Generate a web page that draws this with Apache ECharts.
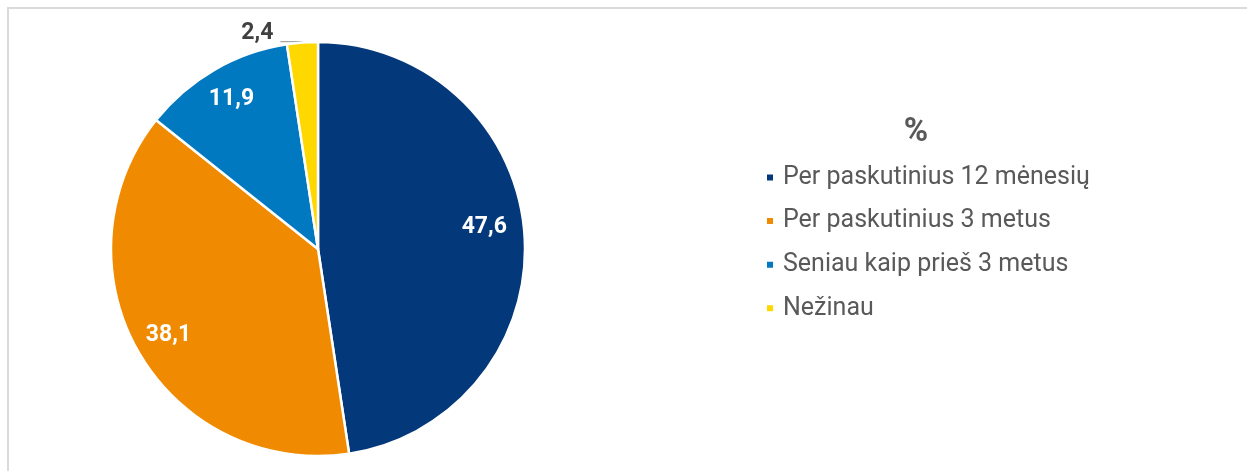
<!DOCTYPE html>
<html>
<head>
<meta charset="utf-8">
<script src="https://cdn.jsdelivr.net/npm/echarts@6/dist/echarts.min.js"></script>
<style>
  html, body { margin: 0; padding: 0; background: #fff; }
  #frame {
    position: absolute; left: 7px; top: 7px; width: 1260px; height: 480px;
    border-top: 2px solid #dadada; border-left: 2px solid #dadada;
  }
  #chart { position: absolute; left: 0; top: 0; width: 1247px; height: 471px; }
</style>
</head>
<body>
<div id="frame"></div>
<div id="chart"></div>
<script>
const categories = [
  'Per paskutinius 12 mėnesių',
  'Per paskutinius 3 metus',
  'Seniau kaip prieš 3 metus',
  'Nežinau',
]
const values = [47.6, 38.1, 11.9, 2.4]
const colors = ['#03387a', '#f08a00', '#0079c1', '#ffd800']
const legendTitle = '%'

const fmt = (v) => String(v).replace('.', ',')
const font = 'Roboto'
const center = [318, 249]
const R = 207

const chart = echarts.init(document.getElementById('chart'))

chart.setOption({
  animation: false,
  color: colors,
  title: {
    text: legendTitle,
    left: 916,
    top: 116,
    textAlign: 'center',
    padding: 0,
    textStyle: { fontFamily: font, fontSize: 33, fontWeight: 'bold', color: '#595959' },
  },
  legend: {
    orient: 'vertical',
    left: 760,
    top: 160,
    itemWidth: 8,
    itemHeight: 8,
    itemGap: 18.6,
    icon: 'rect',
    data: categories,
    textStyle: { fontFamily: font, fontSize: 25, color: '#595959', padding: [0, 0, 0, 4] },
  },
  series: [
    {
      type: 'pie',
      center: center,
      radius: [0, R],
      startAngle: 90,
      clockwise: true,
      legendHoverLink: false,
      itemStyle: { borderColor: '#fff', borderWidth: 2.5 },
      emphasis: { disabled: true },
      label: { show: false },
      labelLine: { show: false },
      data: categories.map((name, i) => {
        const item = { name, value: values[i] }
        if (i === 3) {
          item.label = {
            show: true,
            position: 'outside',
            formatter: (p) => fmt(p.value),
            fontFamily: font,
            fontSize: 23,
            fontWeight: 'bold',
            color: '#404040',
            distanceToLabelLine: 7,
            offset: [0, -8],
          }
          item.labelLine = { show: true, length: 1, length2: 22, lineStyle: { color: '#a6a6a6', width: 1.2 } }
        }
        return item
      }),
    },
    {
      // transparent ring, only used to place the inside labels at ~0.83 R
      type: 'pie',
      center: center,
      radius: [R * 0.64, R * 1.0],
      startAngle: 90,
      clockwise: true,
      silent: true,
      legendHoverLink: false,
      itemStyle: { color: 'transparent' },
      label: {
        show: true,
        position: 'inside',
        formatter: (p) => fmt(p.value),
        fontFamily: font,
        fontSize: 23,
        fontWeight: 'bold',
        color: '#fff',
      },
      labelLine: { show: false },
      labelLayout: (params) => (params.dataIndex === 0 ? { dx: -6, dy: -9 } : {}),
      data: categories.map((name, i) => ({
        name: name + ' ',
        value: values[i],
        label: { show: i < 3 },
      })),
    },
  ],
})
</script>
</body>
</html>
